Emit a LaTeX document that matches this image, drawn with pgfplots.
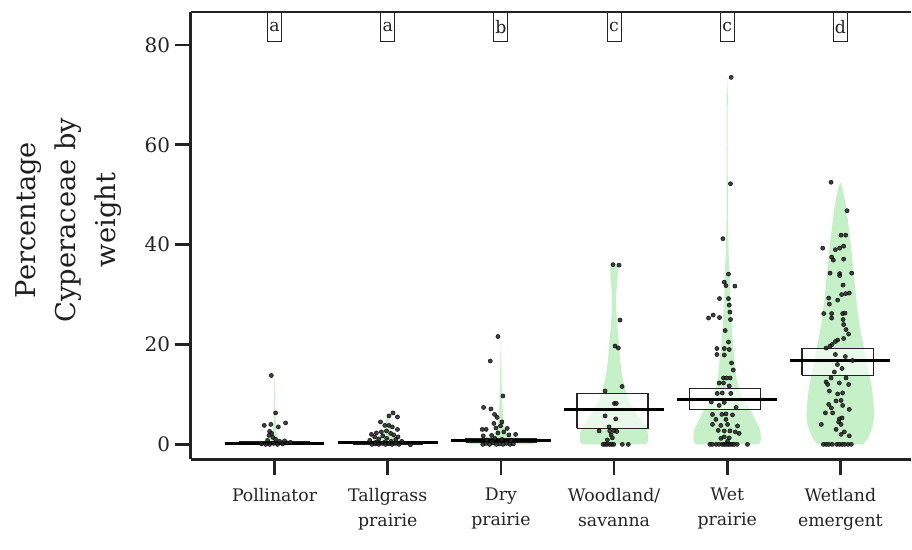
\documentclass[border=0pt]{standalone}
\usepackage{fontspec}
\setmainfont{DejaVu Serif}
\usepackage{pgfplots}
\pgfplotsset{compat=1.18}
\usetikzlibrary{calc}
\definecolor{vgreen}{RGB}{198,241,200}
\definecolor{ptgray}{RGB}{40,40,40}
\definecolor{axgray}{RGB}{35,35,35}
\begin{document}
\begin{tikzpicture}
\begin{axis}[name=ax, width=540.75pt, height=336pt, scale only axis,
 xmin=0.259, xmax=6.622, ymin=-3, ymax=86.6,
 axis x line*=box, axis y line*=left,
 every inner x axis line/.append style={-}, every outer x axis line/.append style={-},
 every inner y axis line/.append style={-}, every outer y axis line/.append style={-},
 axis line style={line width=1.9pt, color=axgray},
 tick align=outside, major tick length=12pt,
 every tick/.style={line width=2pt, color=axgray},
 xtick pos=bottom, ytick pos=left,
 xtick={1,2,3,4,5,6},
 xticklabels={Pollinator,{Tallgrass\\prairie},{Dry\\prairie},{Woodland/\\savanna},{Wet\\prairie},{Wetland\\emergent}},
 xticklabel style={align=center, font=\fontsize{13}{19}\selectfont, text=axgray, yshift=-6pt},
 ytick={0,20,40,60,80},
 yticklabel style={font=\fontsize{15}{16}\selectfont, text=axgray},
 /pgf/number format/assume math mode=true,
 ylabel={Percentage\\Cyperaceae by\\weight},
 every axis y label/.style={at={(axis description cs:-0.089,0.535)}, rotate=90, anchor=south},
 ylabel style={align=center, font=\fontsize{20.5}{30}\selectfont, text=black!88},
 clip=false,
]
% ---------- violins ----------
\addplot[fill=vgreen, draw=none] coordinates {(1.25,0)(1.22,0.3)(1.07,0.8)(1.027,1.5)(1.013,3)(1.009,5)(1.005,8)(1.003,12)(1.0,14)
 (0.997,12)(0.995,8)(0.991,5)(0.987,3)(0.973,1.5)(0.93,0.8)(0.78,0.3)(0.75,0)(1.25,0)};
\addplot[fill=vgreen, draw=none] coordinates {(2.27,0)(2.23,0.4)(2.09,1)(2.035,2)(2.018,4)(2.004,6)(2.0,6.5)
 (1.996,6)(1.982,4)(1.965,2)(1.91,1)(1.77,0.4)(1.73,0)(2.27,0)};
\addplot[fill=vgreen, draw=none] coordinates {(3.30,0)(3.27,0.5)(3.13,1.2)(3.053,2)(3.026,4)(3.013,8)(3.007,12)(3.005,17)(3.0,21.6)
 (2.995,17)(2.993,12)(2.987,8)(2.974,4)(2.947,2)(2.87,1.2)(2.73,0.5)(2.70,0)(3.30,0)};
\addplot[fill=vgreen, draw=none] coordinates {(4.282,0)(4.300,0.6)(4.300,2)(4.291,3)(4.265,4)(4.238,5)(4.203,6)(4.177,7)(4.150,8)(4.132,9)(4.115,10)(4.088,12)(4.071,14)(4.053,17)(4.044,20)(4.031,23)(4.022,26)(4.018,29)(4.022,31)(4.031,33)(4.035,35)(4.022,36)(4.000,36.4)
 (3.978,36)(3.965,35)(3.969,33)(3.978,31)(3.982,29)(3.978,26)(3.969,23)(3.956,20)(3.947,17)(3.929,14)(3.912,12)(3.885,10)(3.868,9)(3.850,8)(3.823,7)(3.797,6)(3.762,5)(3.735,4)(3.709,3)(3.700,2)(3.700,0.6)(3.718,0)(4.282,0)};
\addplot[fill=vgreen, draw=none] coordinates {(5.282,0)(5.300,1)(5.291,3)(5.247,5)(5.203,7)(5.150,9)(5.106,11)(5.084,13)(5.071,16)(5.057,19)(5.044,22)(5.035,26)(5.026,30)(5.022,34)(5.013,38)(5.009,42)(5.005,46)(5.005,52)(5.004,60)(5.005,70)(5.000,73.5)
 (4.995,70)(4.996,60)(4.995,52)(4.995,46)(4.991,42)(4.987,38)(4.978,34)(4.974,30)(4.965,26)(4.956,22)(4.943,19)(4.929,16)(4.916,13)(4.894,11)(4.850,9)(4.797,7)(4.753,5)(4.709,3)(4.700,1)(4.718,0)(5.282,0)};
\addplot[fill=vgreen, draw=none] coordinates {(6.203,0)(6.238,1)(6.265,2.3)(6.291,4)(6.300,6)(6.291,9)(6.274,12)(6.247,15)(6.212,19)(6.185,22)(6.163,25)(6.141,29)(6.124,33)(6.106,37)(6.088,41)(6.066,45)(6.049,48)(6.031,50)(6.018,51.5)(6.000,52.5)
 (5.982,51.5)(5.969,50)(5.951,48)(5.934,45)(5.912,41)(5.894,37)(5.876,33)(5.859,29)(5.837,25)(5.815,22)(5.788,19)(5.753,15)(5.726,12)(5.709,9)(5.700,6)(5.709,4)(5.735,2.3)(5.762,1)(5.797,0)(6.203,0)};
% ---------- points ----------
\pgfplotsset{pts/.style={only marks, mark=*, mark size=1.55pt, mark options={fill=ptgray, draw=none}, opacity=0.88}}
\addplot[pts] coordinates {(0.971,13.8)(1.009,6.3)(0.909,3.8)(0.967,4.0)(1.097,4.3)(1.033,3.5)(0.956,2.6)(0.974,2.2)(0.950,1.8)(0.985,1.4)(1.009,1.0)(1.044,0.6)(0.938,0.8)(1.088,0.7)
 (0.885,0.1)(0.921,0)(0.956,0)(0.991,0.2)(1.026,0)(1.071,0.1)(1.115,0.3)(1.141,0.4)};
\addplot[pts] coordinates {(2.047,6.3)(2.011,5.7)(2.086,5.5)(1.936,4.5)(1.974,3.8)(2.011,3.8)(2.041,3.5)(2.086,3.0)(1.856,2.0)(1.900,2.3)(1.944,2.5)(1.989,2.7)(2.026,2.2)(2.091,1.5)(1.885,1.5)(1.956,1.7)(2.053,1.9)
 (1.921,1.1)(1.991,1.2)(2.071,1.0)(1.841,0.8)(2.124,0.6)(1.90,0.5)(1.97,0.4)(2.03,0.6)(2.06,0.3)
 (1.86,0)(1.89,0.1)(1.92,0)(1.95,0.2)(1.98,0)(2.01,0.1)(2.04,0)(2.07,0.2)(2.10,0)(2.20,-0.1)};
\addplot[pts] coordinates {(2.974,21.6)(2.906,16.7)(3.018,9.7)(2.847,7.4)(2.912,7.1)(2.944,6.0)(2.967,5.4)(2.938,4.2)(2.997,3.7)(2.835,3.0)(2.870,3.0)(3.056,3.2)(3.009,4.5)(2.956,3.3)(2.918,1.8)(3.130,2.0)(2.844,1.7)(3.026,2.5)(3.071,1.9)(2.974,2.3)
 (2.876,0.9)(2.947,1.2)(3.009,1.0)(3.088,0.8)(2.921,0.6)
 (2.84,0)(2.87,0.2)(2.90,0)(2.93,0.3)(2.96,0)(2.99,0.1)(3.02,0)(3.05,0.2)(3.08,0)(3.11,0.1)};
\addplot[pts] coordinates {(3.991,36.0)(4.044,35.9)(4.053,24.9)(4.009,19.7)(4.038,19.3)(4.071,11.6)(3.921,10.7)(4.003,8.2)(4.020,8.2)(3.921,5.7)(4.015,5.1)(3.956,3.5)(3.868,2.7)(3.962,2.7)(4.000,2.7)(4.024,2.6)(3.974,1.9)(3.985,1.3)(3.941,0.9)
 (3.903,0)(3.921,0)(3.938,0)(3.962,0)(3.980,0)(3.997,0)(4.073,0)(4.126,0)};
\addplot[pts] coordinates {(5.035,73.5)(5.029,52.2)(4.962,41.2)(5.011,34.1)(4.974,32.5)(4.989,31.8)(5.068,31.7)(4.932,29.2)(5.011,29.2)(5.018,27.9)(5.024,26.5)(4.876,25.9)(4.835,25.3)(4.932,25.4)(5.029,25.0)(4.982,22.8)(5.011,20.5)(4.909,19.2)(4.974,19.2)(5.018,19.0)(4.909,18.0)(4.974,17.9)(5.038,16.3)(5.053,14.9)(5.026,13.3)(4.967,13.3)(4.994,13.3)(4.929,12.3)(4.967,12.3)(5.018,11.7)
 (4.912,10.2)(4.956,10.3)(5.032,10.2)(4.859,8.5)(4.974,8.4)(5.079,7.4)(4.929,7.8)
 (4.870,6.0)(4.953,6.0)(4.989,6.1)(5.047,5.9)(4.900,5.0)(4.989,5.0)(4.870,4.0)(4.944,3.8)(5.003,4.0)(5.091,3.7)(4.921,2.8)(4.974,2.7)(5.024,2.7)(5.071,2.5)(5.106,2.2)(4.974,1.5)(5.018,1.3)(4.944,1.2)(5.003,0.6)
 (4.847,0)(4.868,0)(4.903,0)(4.929,0)(4.956,0)(4.974,0)(4.991,0)(5.009,0)(5.026,0)(5.044,0)(5.062,0)(5.088,0)(5.179,0)};
\addplot[pts] coordinates {(5.918,52.5)(6.059,46.8)(6.006,41.9)(6.047,41.9)(5.844,39.3)(5.956,39.0)(5.994,39.3)(6.029,39.7)(5.923,37.5)(5.938,36.9)(6.029,37.1)(5.909,34.3)(5.994,34.2)(5.994,33.8)(6.100,34.3)(6.024,31.9)(6.011,30.0)(6.047,30.2)(6.079,30.3)(5.897,29.3)(5.903,28.1)(5.976,28.9)(5.853,26.2)(5.923,26.2)(5.923,25.3)(6.020,26.2)(6.041,26.3)(6.024,25.0)(6.029,24.0)(6.050,23.0)(6.073,22.1)(6.029,21.2)(5.976,20.9)(5.956,20.6)(5.927,20.0)(5.909,19.7)(5.874,19.3)
 (5.956,18.0)(5.947,14.5)(6.015,15.2)(6.044,17.6)(6.106,16.8)(5.974,16.0)
 (5.874,12.5)(5.918,13.3)(5.888,12.0)(5.991,12.3)(6.050,13.3)(6.073,12.0)(5.903,10.7)(5.976,10.1)(6.020,10.3)(5.962,8.7)(6.006,8.8)(5.897,8.0)(5.921,7.3)(6.020,7.8)(6.079,7.0)(5.868,6.3)(5.932,6.3)(5.991,5.1)(6.015,5.3)(5.985,4.5)(6.006,4.0)(5.832,4.0)(5.962,3.0)(6.035,2.5)(6.079,1.7)(6.006,2.0)
 (5.850,0)(5.874,0)(5.897,0)(5.927,0)(5.967,0)(5.991,0)(6.015,0)(6.038,0)(6.068,0)(6.097,0)};
% ---------- inference bands ----------
\pgfplotsset{band/.style={fill=white, fill opacity=0.6, draw=axgray, draw opacity=1, line width=1pt}}
\addplot[band] coordinates {(0.69,0.0)(1.31,0.0)(1.31,0.5)(0.69,0.5)(0.69,0.0)};
\addplot[band] coordinates {(1.69,0.1)(2.31,0.1)(2.31,0.6)(1.69,0.6)(1.69,0.1)};
\addplot[band] coordinates {(2.69,0.5)(3.31,0.5)(3.31,1.1)(2.69,1.1)(2.69,0.5)};
\addplot[band] coordinates {(3.673,3.2)(4.300,3.2)(4.300,10.2)(3.673,10.2)(3.673,3.2)};
\addplot[band] coordinates {(4.665,7.0)(5.292,7.0)(5.292,11.2)(4.665,11.2)(4.665,7.0)};
\addplot[band] coordinates {(5.662,13.8)(6.291,13.8)(6.291,19.2)(5.662,19.2)(5.662,13.8)};
% ---------- means ----------
\pgfplotsset{meanl/.style={black, line width=2.2pt}}
\addplot[meanl] coordinates {(0.559,0.2)(1.441,0.2)};
\addplot[meanl] coordinates {(1.559,0.35)(2.441,0.35)};
\addplot[meanl] coordinates {(2.559,0.8)(3.441,0.8)};
\addplot[meanl] coordinates {(3.559,7.0)(4.441,7.0)};
\addplot[meanl] coordinates {(4.559,9.0)(5.441,9.0)};
\addplot[meanl] coordinates {(5.559,16.8)(6.441,16.8)};
% ---------- letters ----------
\tikzset{lett/.style={draw=axgray, line width=0.7pt, anchor=north, minimum height=21.75pt, minimum width=10.5pt, inner sep=0.8pt, font=\fontsize{13}{13}\selectfont, text=axgray}}
\node[lett] at (axis cs:1,86.6) {a};
\node[lett] at (axis cs:2,86.6) {a};
\node[lett] at (axis cs:3,86.6) {b};
\node[lett] at (axis cs:4,86.6) {c};
\node[lett] at (axis cs:5,86.6) {c};
\node[lett] at (axis cs:6,86.6) {d};
\end{axis}
\path ($(ax.south west)+(-143.25pt,-67.5pt)$) rectangle ($(ax.north east)+(0pt,9pt)$);
\end{tikzpicture}
\end{document}
